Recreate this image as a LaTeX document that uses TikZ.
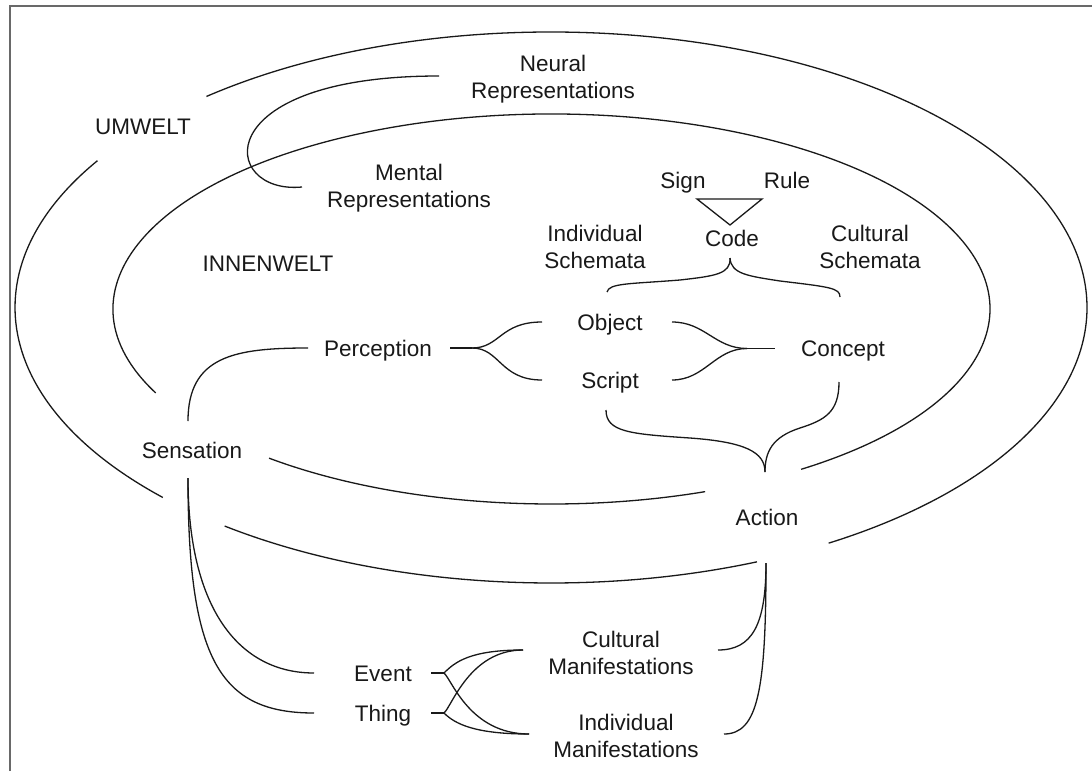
\documentclass[tikz,border=0pt]{standalone}
\usepackage{fontspec}
\setmainfont{Liberation Sans}
\usetikzlibrary{calc}
\definecolor{framegray}{RGB}{105,105,105}
\definecolor{ink}{RGB}{25,25,25}
\begin{document}
\begin{tikzpicture}[x=0.5pt,y=0.5pt,
  lbl/.style={inner sep=0pt, align=center, text=ink,
    font=\fontsize{11.25pt}{13.5pt}\selectfont},
  lbl1/.style={inner sep=0pt, text=ink, text height=8pt, text depth=0pt,
    font=\fontsize{11.25pt}{13.5pt}\selectfont},
  curve/.style={line width=0.65pt, draw=ink},
  frame/.style={line width=0.75pt, draw=framegray}]
\useasboundingbox (0,0) rectangle (1092,-771);
\fill[white] (0,0) rectangle (1092,-771);
\draw[frame] (10,-771) -- (10,-6) -- (1092,-6);

% labels
\node[lbl]  (neural)  at (553,-79.5)  {Neural\\Representations};
\node[lbl1] (umwelt)  at (143,-126)   {UMWELT};
\node[lbl]  (mental)  at (409,-188.5) {Mental\\Representations};
\node[lbl1] (innen)   at (268,-263.5) {INNENWELT};
\node[lbl1] (sign)    at (683,-180)   {Sign};
\node[lbl1] (rule)    at (787,-180)   {Rule};
\node[lbl1] (code)    at (732,-238.5) {Code};
\node[lbl]  (indsch)  at (595,-247)   {Individual\\Schemata};
\node[lbl]  (cultsch) at (870,-247)   {Cultural\\Schemata};
\node[lbl1] (perc)    at (378,-348)   {Perception};
\node[lbl1] (object)  at (610,-322)   {Object};
\node[lbl1] (script)  at (610,-380)   {Script};
\node[lbl1] (concept) at (843,-348.5) {Concept};
\node[lbl1] (sens)    at (192,-450)   {Sensation};
\node[lbl1] (action)  at (767,-517)   {Action};
\node[lbl1] (event)   at (383,-673)   {Event};
\node[lbl1] (thing)   at (383,-713)   {Thing};
\node[lbl]  (cultman) at (621,-653)   {Cultural\\Manifestations};
\node[lbl]  (indman)  at (626,-736)   {Individual\\Manifestations};

% Umwelt (outer) and Innenwelt (inner) ellipses, drawn as open arcs
\coordinate (uc) at (551,-307.5);
\coordinate (ic) at (551.5,-309);
\draw[curve] ($(uc)+(130:536 and 275.5)$)
  arc[start angle=130, end angle=-58.8, x radius=536, y radius=275.5];
\draw[curve] ($(uc)+(147.8:536 and 275.5)$)
  arc[start angle=147.8, end angle=223.6, x radius=536, y radius=275.5];
\draw[curve] ($(uc)+(232.5:536 and 275.5)$)
  arc[start angle=232.5, end angle=292.6, x radius=536, y radius=275.5];
\draw[curve] ($(ic)+(205.5:438.5 and 195)$)
  arc[start angle=205.5, end angle=-55.3, x radius=438.5, y radius=195];
\draw[curve] ($(ic)+(229.9:438.5 and 195)$)
  arc[start angle=229.9, end angle=290.5, x radius=438.5, y radius=195];

% neural -> mental hook
\draw[curve] ($(neural)+(-114,3.5)$) .. controls +(-234,0) and +(-82,-8) .. ($(mental)+(-107,1.5)$);

% sensation -> perception
\draw[curve] ($(sens)+(-4,29)$) .. controls +(0,65) and +(-73,0) .. ($(perc)+(-70,0)$);

% perception fork to object / script
\coordinate (pj) at ($(perc)+(94,0)$);
\draw[curve] ($(perc)+(72,0)$) -- (pj);
\draw[curve] (pj) .. controls +(28,0) and +(-42,0) .. ($(object)+(-68,0)$);
\draw[curve] (pj) .. controls +(28,0) and +(-42,0) .. ($(script)+(-68,0)$);

% object / script join into concept
\coordinate (cj) at ($(concept)+(-96,0)$);
\draw[curve] (cj) -- ($(concept)+(-68,0)$);
\draw[curve] ($(object)+(62,0)$) .. controls +(33,0) and +(-32,0) .. (cj);
\draw[curve] ($(script)+(62,0)$) .. controls +(33,0) and +(-32,0) .. (cj);

% sign - rule - code triangle
\draw[curve] ($(sign)+(14,-19)$) -- ($(rule)+(-25,-19)$) -- ($(code)+(-2,13.5)$) -- cycle;

% brace from code down to object and concept
\coordinate (ctip) at ($(code)+(-2,-19.5)$);
\coordinate (cbl) at ($(ctip)+(-50,-22)$);
\coordinate (cbr) at ($(ctip)+(50,-23)$);
\draw[curve] ($(object)+(-3,30)$) .. controls +(2,9) and +(-50,-4) .. (cbl)
  .. controls +(35,4) and +(1,-16) .. (ctip);
\draw[curve] ($(concept)+(-3,51.5)$) .. controls +(0,9) and +(50,-6) .. (cbr)
  .. controls +(-32,5) and +(1,-16) .. (ctip);

% brace from script and concept down to action
\coordinate (atip) at ($(action)+(-2,45)$);
\coordinate (abl) at ($(atip)+(-75,34)$);
\coordinate (abr) at ($(atip)+(35,44)$);
\draw[curve] ($(script)+(-4,-30)$) .. controls +(0,-22) and +(-60,4) .. (abl)
  .. controls +(55,-4) and +(0,20) .. (atip);
\draw[curve] ($(concept)+(-4,-33.5)$) .. controls +(0,-30) and +(25,8) .. (abr)
  .. controls +(-28,-9) and +(0,20) .. (atip);

% sensation -> event / thing
\draw[curve] ($(sens)+(-4,-28)$) .. controls +(0,-132) and +(-74,0) .. ($(event)+(-69,0)$);
\draw[curve] ($(sens)+(-4,-28)$) .. controls +(0,-182) and +(-94,0) .. ($(thing)+(-69,0)$);

% event / thing forks to manifestations
\coordinate (ej) at ($(event)+(61,0)$);
\coordinate (tj) at ($(thing)+(61,0)$);
\draw[curve] ($(event)+(48,0)$) -- (ej);
\draw[curve] ($(thing)+(48,0)$) -- (tj);
\draw[curve] (ej) .. controls +(11,11) and +(-53,0) .. ($(cultman)+(-98,3)$);
\draw[curve] (ej) .. controls +(8,-7) and +(-59,0) .. ($(indman)+(-97,2)$);
\draw[curve] (tj) .. controls +(8,7) and +(-53,0) .. ($(cultman)+(-98,3)$);
\draw[curve] (tj) .. controls +(11,-11) and +(-54,0) .. ($(indman)+(-97,2)$);

% action -> manifestations
\draw[curve] ($(action)+(-1,-46)$) .. controls +(0,-62) and +(34,0) .. ($(cultman)+(97,3)$);
\draw[curve] ($(action)+(-1,-46)$) .. controls +(0,-127) and +(34,0) .. ($(indman)+(98,2)$);
\end{tikzpicture}
\end{document}
